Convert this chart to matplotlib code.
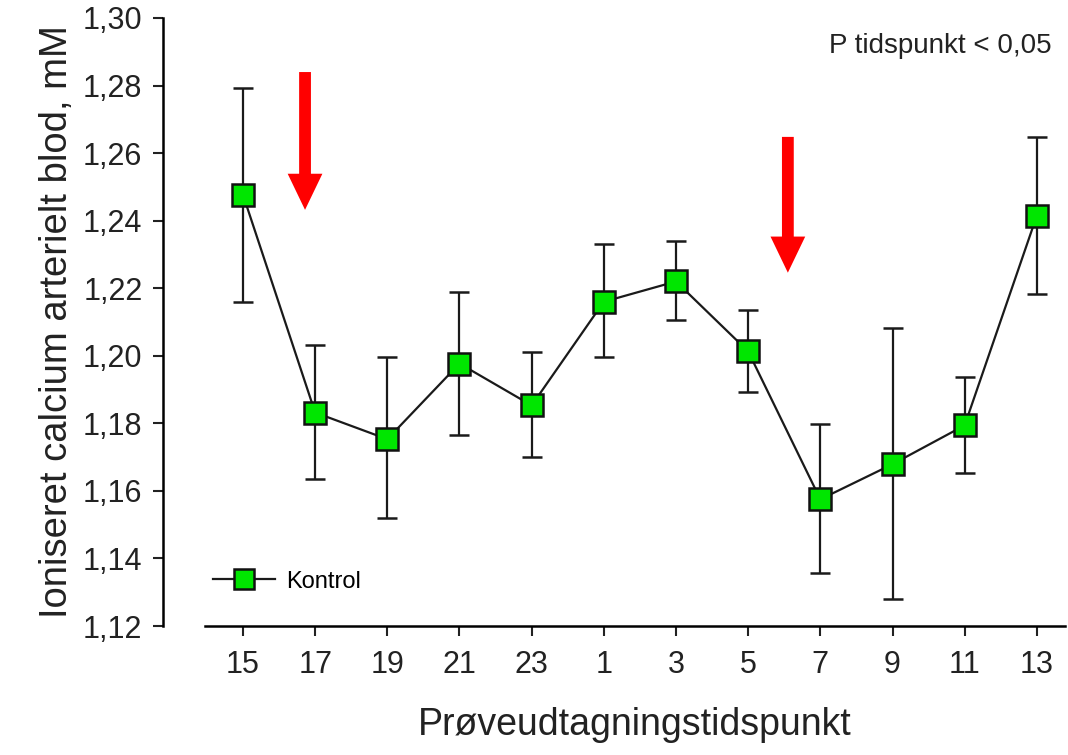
import numpy as np
import matplotlib.pyplot as plt
from matplotlib.lines import Line2D

plt.rcParams['font.family'] = ['Liberation Sans', 'DejaVu Sans']

hours = ['15', '17', '19', '21', '23', '1', '3', '5', '7', '9', '11', '13']
kontrol = [1.2477, 1.1832, 1.1753, 1.1977, 1.1853, 1.2160, 1.2220, 1.2013, 1.1575, 1.1679, 1.1794, 1.2415]
err_top = [1.2793, 1.2033, 1.1995, 1.2190, 1.2010, 1.2332, 1.2341, 1.2137, 1.1797, 1.2081, 1.1936, 1.2648]
err_bot = [1.2158, 1.1634, 1.1519, 1.1764, 1.1699, 1.1995, 1.2107, 1.1894, 1.1357, 1.1280, 1.1652, 1.2184]

# arrows: (x position in sample index, top, tip)
arrows = [(0.86, 1.284, 1.2432), (7.55, 1.2648, 1.2246)]

x = np.arange(len(hours))
y = np.array(kontrol)
yerr = [y - np.array(err_bot), np.array(err_top) - y]

fig = plt.figure(figsize=(10.68, 7.55), dpi=100)
ax = fig.add_axes([205/1068, 1 - 626/755, (1065-205)/1068, (626-18)/755])

ax.errorbar(x, y, yerr=yerr, color='#1a1a1a', lw=1.6, elinewidth=1.6,
            capsize=7.5, capthick=1.6, marker='s', markersize=16,
            markerfacecolor='#00e600', markeredgecolor='#111111',
            markeredgewidth=1.8, zorder=3)

for ax_x, top, tip in arrows:
    ax.annotate('', xy=(ax_x, tip), xytext=(ax_x, top),
                arrowprops=dict(arrowstyle='simple,head_width=2.5,head_length=2.6,tail_width=0.85',
                                color='red', lw=0, shrinkA=0, shrinkB=0))

ax.set_xlim(-0.526, 11.39)
ax.set_ylim(1.12, 1.30)
ax.set_xticks(x)
ax.set_xticklabels(hours)
yt = np.arange(1.12, 1.3001, 0.02)
ax.set_yticks(yt)
ax.set_yticklabels([f'{v:.2f}'.replace('.', ',') for v in yt])

ax.spines['top'].set_visible(False)
ax.spines['right'].set_visible(False)
ax.spines['left'].set_position(('outward', 30))
ax.spines['left'].set_linewidth(1.8)
ax.spines['bottom'].set_linewidth(1.8)
ax.tick_params(axis='both', labelsize=22, width=1.5, length=7, color='#222222', labelcolor='#222222')
ax.tick_params(axis='y', pad=8)
ax.tick_params(axis='x', pad=10)

ax.set_ylabel('Ioniseret calcium arterielt blod, mM', fontsize=27.5, color='#222222', labelpad=6)
ax.set_xlabel('Prøveudtagningstidspunkt', fontsize=27, color='#222222', labelpad=20)

ax.text(0.985, 0.975, 'P tidspunkt < 0,05', transform=ax.transAxes, ha='right', va='top',
        fontsize=20, color='#222222')

handle = Line2D([], [], color='#1a1a1a', lw=1.6, marker='s', markersize=14,
                markerfacecolor='#00e600', markeredgecolor='#111111', markeredgewidth=1.8)
ax.legend([handle], ['Kontrol'], loc='lower left', frameon=False, fontsize=17,
          bbox_to_anchor=(-0.015, 0.02), handlelength=2.6, handletextpad=0.5)

fig.savefig('out.png', dpi=100)
